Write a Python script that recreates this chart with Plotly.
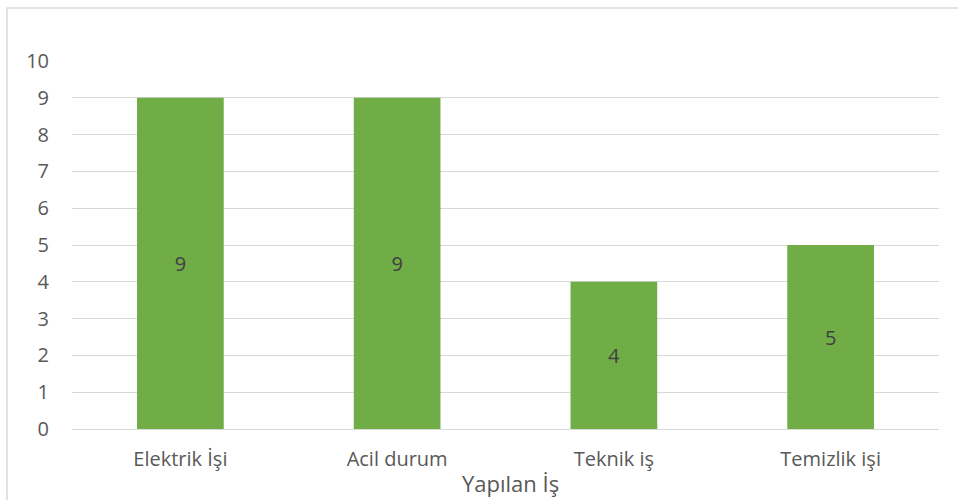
import plotly.graph_objects as go

categories = ["Elektrik İşi", "Acil durum", "Teknik iş", "Temizlik işi"]
values = [9, 9, 4, 5]
y_ticks = list(range(0, 11))
x_title = "Yapılan İş"

font_family = "Open Sans, Liberation Sans, sans-serif"

fig = go.Figure(go.Bar(
    x=categories, y=values,
    marker=dict(color="#70AD47", line=dict(width=0)),
    text=[str(v) for v in values],
    textposition="inside", insidetextanchor="middle", textangle=0,
    textfont=dict(color="#404040", size=20, family=font_family),
    width=0.4,
))

fig.update_layout(
    width=958, height=500,
    margin=dict(l=72, r=19, t=61, b=71),
    paper_bgcolor="white", plot_bgcolor="white",
    showlegend=False,
    font=dict(family=font_family, color="#595959", size=20),
    xaxis=dict(showgrid=False, showline=False, ticks="", ticklabelstandoff=16,
               tickfont=dict(size=20, color="#595959")),
    yaxis=dict(range=[0, 10], tickvals=y_ticks, showgrid=True, gridcolor="#D9D9D9", gridwidth=1,
               zeroline=True, zerolinecolor="#D9D9D9", zerolinewidth=1,
               showline=False, ticks="", ticklabelstandoff=22,
               tickfont=dict(size=20, color="#595959")),
    annotations=[dict(text=x_title, xref="paper", yref="paper", x=0.506, y=-0.148,
                      xanchor="center", yanchor="middle", showarrow=False,
                      font=dict(size=22, color="#595959", family=font_family))],
    shapes=[dict(type="rect", xref="paper", yref="paper", x0=-0.075, y0=-0.4, x1=1.1, y1=1.144,
                 line=dict(color="#D9D9D9", width=1.5), fillcolor="rgba(0,0,0,0)", layer="below")],
    bargap=0.6,
)

fig.write_html("out.html")
